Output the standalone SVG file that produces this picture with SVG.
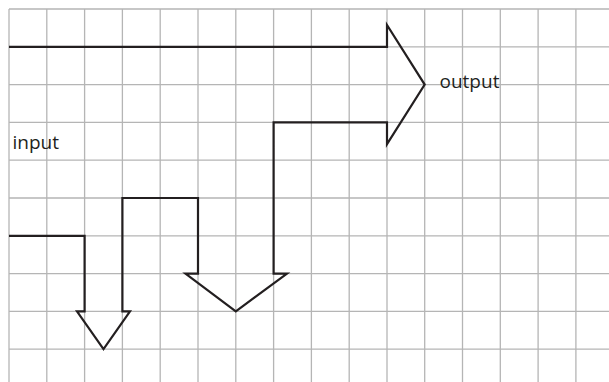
<svg xmlns="http://www.w3.org/2000/svg" width="609" height="382" viewBox="0 0 609 382">
<style>
.grid line{stroke:#b5b5b5;stroke-width:1.3}
.outline{fill:none;stroke:#231f20;stroke-width:2.2;stroke-linejoin:miter}
.lbl{font-family:"Open Sans","Noto Sans",sans-serif;font-size:19px;fill:#231f20}
</style>
<rect width="609" height="382" fill="#ffffff"/>
<g id="grid" class="grid">
<line x1="9" y1="9" x2="9" y2="382"/>
<line x1="46.8" y1="9" x2="46.8" y2="382"/>
<line x1="84.6" y1="9" x2="84.6" y2="382"/>
<line x1="122.4" y1="9" x2="122.4" y2="382"/>
<line x1="160.2" y1="9" x2="160.2" y2="382"/>
<line x1="198" y1="9" x2="198" y2="382"/>
<line x1="235.8" y1="9" x2="235.8" y2="382"/>
<line x1="273.6" y1="9" x2="273.6" y2="382"/>
<line x1="311.4" y1="9" x2="311.4" y2="382"/>
<line x1="349.2" y1="9" x2="349.2" y2="382"/>
<line x1="387" y1="9" x2="387" y2="382"/>
<line x1="424.7" y1="9" x2="424.7" y2="382"/>
<line x1="462.5" y1="9" x2="462.5" y2="382"/>
<line x1="500.3" y1="9" x2="500.3" y2="382"/>
<line x1="538.1" y1="9" x2="538.1" y2="382"/>
<line x1="575.9" y1="9" x2="575.9" y2="382"/>
<line x1="9" y1="9" x2="609" y2="9"/>
<line x1="9" y1="46.8" x2="609" y2="46.8"/>
<line x1="9" y1="84.6" x2="609" y2="84.6"/>
<line x1="9" y1="122.4" x2="609" y2="122.4"/>
<line x1="9" y1="160.2" x2="609" y2="160.2"/>
<line x1="9" y1="198" x2="609" y2="198"/>
<line x1="9" y1="235.8" x2="609" y2="235.8"/>
<line x1="9" y1="273.6" x2="609" y2="273.6"/>
<line x1="9" y1="311.4" x2="609" y2="311.4"/>
<line x1="9" y1="349.2" x2="609" y2="349.2"/>
</g>
<g id="arrow-path">
<path class="outline" d="M9,46.8 H387 V25 L424.7,84.6 L387,144.2 V122.4 H273.6 V273.6 H287 L235.8,311.4 L185.5,273.6 H198 V198 H122.4 V311.4 H130 L103.5,349.2 L77,311.4 H84.6 V235.8 H9"/>
</g>
<g id="label-output"><text class="lbl" x="439.5" y="87.7">output</text></g>
<g id="label-input"><text class="lbl" x="12.5" y="149">input</text></g>
</svg>
